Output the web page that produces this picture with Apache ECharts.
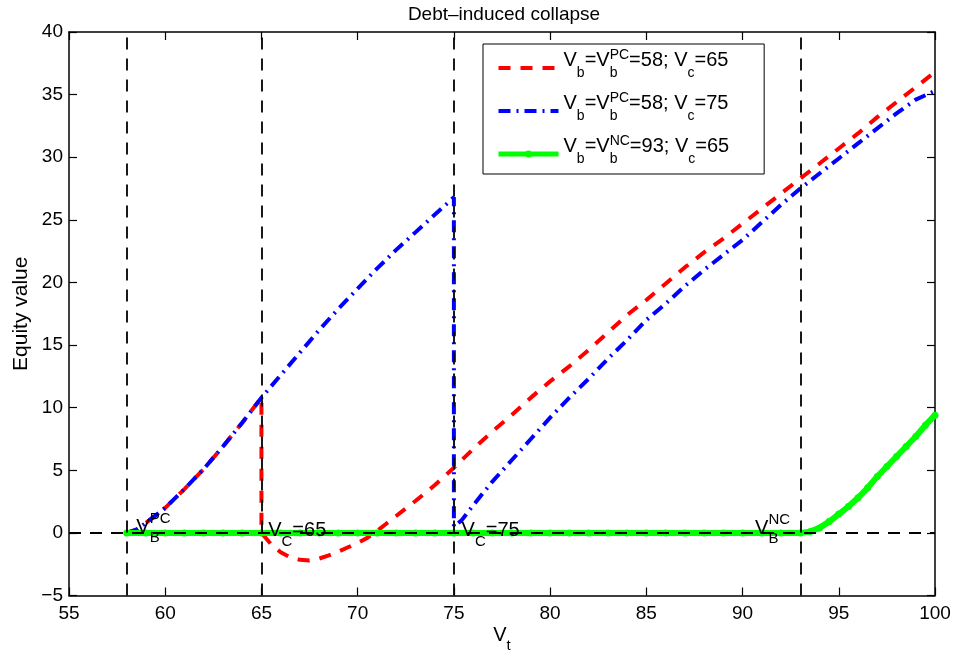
<!DOCTYPE html>
<html>
<head>
<meta charset="utf-8">
<title>Debt-induced collapse</title>
<script src="https://cdn.jsdelivr.net/npm/echarts@6/dist/echarts.min.js"></script>
<style>
  html, body { margin: 0; padding: 0; background: #fff; }
  #chart { width: 956px; height: 652px; }
</style>
</head>
<body>
<div id="chart"></div>
<script>
// ---- data ---------------------------------------------------------------
const xRange = [55, 100];
const yRange = [-5, 40];
const tickStep = 5;

// barrier / call levels marked with vertical dashed lines
const thresholds = [58, 65, 75, 93];

const seriesNames = [
  'V_b=V_b^{PC}=58; V_c=65',
  'V_b=V_b^{PC}=58; V_c=75',
  'V_b=V_b^{NC}=93; V_c=65'
];

// common rise from the bankruptcy barrier up to the first call level
const riseFromBarrier = [
  [58, 0], [58.5, 0.25], [59, 0.8], [59.5, 1.4], [60, 2.0], [61, 3.5],
  [62, 5.1], [63, 6.9], [64, 8.8], [65, 10.8]
];

// Vc = 65: collapse at the call level, dip below zero, then recovery
const callAt65 = [
  [65, 0], [65.5, -0.9], [66, -1.55], [66.5, -1.95], [67, -2.15], [67.5, -2.2],
  [68, -2.05], [68.5, -1.8], [69, -1.5], [69.5, -1.15], [70, -0.8], [70.5, -0.4],
  [71, 0.15], [71.5, 0.75], [72, 1.35], [73, 2.55], [74, 3.8], [75, 5.2],
  [76, 6.7], [77, 8.1], [78, 9.4], [79, 10.8], [80, 12.1], [81, 13.3],
  [82, 14.6], [83, 16.0], [84, 17.4], [85, 18.6], [86, 19.9], [87, 21.2],
  [88, 22.4], [89, 23.5], [90, 24.7], [91, 25.9], [92, 27.1], [93, 28.3],
  [94, 29.5], [95, 30.7], [96, 31.9], [97, 33.2], [98, 34.4], [99, 35.6],
  [100, 36.8]
];

// Vc = 75: keeps rising up to 75, then collapses
const riseTo75 = [
  [66, 12.6], [67, 14.4], [68, 16.2], [69, 17.9], [70, 19.5], [71, 21.1],
  [72, 22.6], [73, 24.0], [74, 25.4], [75, 26.8]
];
const callAt75 = [
  [75, 0.5], [75.4, 1.0], [76, 2.2], [77, 4.1], [78, 5.8], [79, 7.5],
  [80, 9.2], [81, 10.8], [82, 12.3], [83, 13.9], [84, 15.4], [85, 17.0],
  [86, 18.3], [87, 19.7], [88, 21.0], [89, 22.2], [90, 23.4], [91, 24.8],
  [92, 26.2], [93, 27.5], [94, 28.7], [95, 29.9], [96, 31.1], [97, 32.3],
  [98, 33.5], [99, 34.6], [100, 35.3]
];

// no-covenant barrier at 93
const noCovenant = [
  [58, 0], [59, 0], [60, 0], [61, 0], [62, 0], [63, 0], [64, 0], [65, 0],
  [66, 0], [67, 0], [68, 0], [69, 0], [70, 0], [71, 0], [72, 0], [73, 0],
  [74, 0], [75, 0], [76, 0], [77, 0], [78, 0], [79, 0], [80, 0], [81, 0],
  [82, 0], [83, 0], [84, 0], [85, 0], [86, 0], [87, 0], [88, 0], [89, 0],
  [90, 0], [91, 0], [92, 0], [93, 0], [93.5, 0.1], [94, 0.4], [94.5, 0.9],
  [95, 1.5], [95.5, 2.1], [96, 2.8], [96.5, 3.6], [97, 4.5], [97.5, 5.3],
  [98, 6.1], [98.5, 6.9], [99, 7.7], [99.5, 8.6], [100, 9.4]
];

const seriesVc65 = riseFromBarrier.concat(callAt65);
const seriesVc75 = riseFromBarrier.concat(riseTo75, callAt75);

// in-plot annotations (TeX-like strings)
const annotationTexts = ['V_B^{PC}', 'V_C=65', 'V_C=75', 'V_B^{NC}'];
const annotationX = [58.5, 65.35, 75.4, 90.65];

// ---- layout / styles ----------------------------------------------------
const FONT = '"Liberation Sans", Arial, Helvetica, sans-serif';
const annotationShift = [-5.5, -2, -2, -4.5];

// turn "V_b^{PC}=58" into ECharts rich-text markup
function texRich(s, st) {
  const out = [];
  let buf = '';
  let i = 0;
  const flush = () => { if (buf) { out.push('{' + st.main + '|' + buf + '}'); buf = ''; } };
  while (i < s.length) {
    const ch = s[i];
    if (ch === '_' || ch === '^') {
      flush();
      i++;
      let arg;
      if (s[i] === '{') {
        const j = s.indexOf('}', i);
        arg = s.slice(i + 1, j);
        i = j + 1;
      } else {
        arg = s[i];
        i++;
      }
      if (ch === '_') {
        const stacked = s[i] === '^';
        out.push('{' + (stacked ? st.subZ : st.sub) + '|' + arg + '}');
      } else {
        out.push('{' + st.sup + '|' + arg + '}');
      }
    } else {
      buf += ch;
      i++;
    }
  }
  flush();
  return out.join('');
}

const plotKeys = { main: 'v', sub: 's', subZ: 'sz', sup: 'p' };
const plotRich = {
  v:  { fontSize: 20, lineHeight: 22, color: '#000', fontFamily: FONT },
  s:  { fontSize: 15, lineHeight: 15, color: '#000', fontFamily: FONT, padding: [21, 0, 0, 0] },
  sz: { fontSize: 15, lineHeight: 15, color: '#000', fontFamily: FONT, padding: [21, 0, 0, 0], width: 0 },
  p:  { fontSize: 15, lineHeight: 15, color: '#000', fontFamily: FONT, padding: [0, 0, 18, 0] }
};

const legendKeys = { main: 'lv', sub: 'ls', subZ: 'lsz', sup: 'lp' };
const legendRich = {
  lv:  { fontSize: 20, lineHeight: 22, color: '#000', fontFamily: FONT, padding: [0, 0, 16, 0] },
  ls:  { fontSize: 14, lineHeight: 14, color: '#000', fontFamily: FONT, padding: [10, 0, 0, 0] },
  lsz: { fontSize: 14, lineHeight: 14, color: '#000', fontFamily: FONT, padding: [10, 0, 0, 0], width: 0 },
  lp:  { fontSize: 14, lineHeight: 14, color: '#000', fontFamily: FONT, padding: [0, 0, 26, 0] }
};

const axisLine = { show: true, onZero: false, lineStyle: { color: '#000', width: 1.5 } };
const axisTick = { show: true, inside: true, length: 8, lineStyle: { color: '#000', width: 1.2 } };
const tickLabel = { fontSize: 19, color: '#000', fontFamily: FONT };
const minusSign = (v) => String(v).replace('-', '\u2212');

const redStyle = { color: '#ff0000', width: 4, type: [12, 10] };
const blueStyle = { color: '#0000ff', width: 4, type: [12, 6, 2, 6] };
const greenStyle = { color: '#00ff00', width: 6 };

const chart = echarts.init(document.getElementById('chart'), null, { renderer: 'canvas' });

chart.setOption({
  backgroundColor: '#fff',
  animation: false,
  title: {
    text: 'Debt–induced collapse',
    left: 504,
    top: 5,
    padding: 0,
    textAlign: 'center',
    textStyle: { fontSize: 19, fontWeight: 'normal', color: '#000', fontFamily: FONT }
  },
  grid: { left: 69, top: 32, width: 866, height: 563.5, outerBoundsMode: 'none' },
  legend: {
    data: [
      { name: seriesNames[0], itemStyle: { opacity: 0 }, lineStyle: { width: 4 } },
      { name: seriesNames[1], itemStyle: { opacity: 0 }, lineStyle: { width: 4 } },
      { name: seriesNames[2], lineStyle: { width: 5 } }
    ],
    orient: 'vertical',
    left: 483,
    top: 44,
    padding: [4, 35, 0, 13],
    itemGap: 3,
    itemWidth: 60,
    itemHeight: 9,
    borderColor: '#000',
    borderWidth: 1,
    borderRadius: 0,
    backgroundColor: '#fff',
    selectedMode: false,
    formatter: (name) => texRich(name, legendKeys),
    textStyle: { color: '#000', fontFamily: FONT, rich: legendRich }
  },
  xAxis: [
    {
      type: 'value', min: xRange[0], max: xRange[1], interval: tickStep,
      position: 'bottom', axisLine, axisTick,
      axisLabel: Object.assign({ margin: 9, showMinLabel: true, showMaxLabel: true }, tickLabel),
      splitLine: { show: false },
      name: texRich('V_t', plotKeys),
      nameLocation: 'middle',
      nameGap: 29,
      nameMoveOverlap: false,
      nameTextStyle: { rich: plotRich }
    },
    {
      type: 'value', min: xRange[0], max: xRange[1], interval: tickStep,
      position: 'top', axisLine, axisTick,
      axisLabel: { show: false }, splitLine: { show: false }
    }
  ],
  yAxis: [
    {
      type: 'value', min: yRange[0], max: yRange[1], interval: tickStep,
      position: 'left', axisLine, axisTick,
      axisLabel: Object.assign({ margin: 6, showMinLabel: true, showMaxLabel: true, formatter: minusSign }, tickLabel),
      splitLine: { show: false },
      name: 'Equity value',
      nameLocation: 'middle',
      nameGap: 37,
      nameMoveOverlap: false,
      nameTextStyle: { fontSize: 21, color: '#000', fontFamily: FONT }
    },
    {
      type: 'value', min: yRange[0], max: yRange[1], interval: tickStep,
      position: 'right', axisLine, axisTick,
      axisLabel: { show: false }, splitLine: { show: false }
    }
  ],
  series: [
    {
      name: seriesNames[0], type: 'line', data: seriesVc65,
      symbol: 'none', z: 3, emphasis: { disabled: true },
      lineStyle: redStyle,
      itemStyle: { color: redStyle.color }
    },
    {
      name: seriesNames[1], type: 'line', data: seriesVc75,
      symbol: 'none', z: 3, emphasis: { disabled: true },
      lineStyle: blueStyle,
      itemStyle: { color: blueStyle.color }
    },
    {
      name: seriesNames[2], type: 'line', data: noCovenant,
      symbol: 'circle', symbolSize: 7, showSymbol: true, showAllSymbol: true,
      z: 4, emphasis: { disabled: true },
      lineStyle: greenStyle,
      itemStyle: { color: greenStyle.color, borderWidth: 0 }
    },
    {
      // reference levels: barrier / call values and the zero line
      name: 'levels', type: 'line', data: [], z: 5, silent: true,
      markLine: {
        silent: true,
        symbol: 'none',
        animation: false,
        label: { show: false },
        lineStyle: { color: '#000', width: 1.8, type: [12, 9] },
        emphasis: { disabled: true },
        data: thresholds.map(v => ({ xAxis: v })).concat([{ yAxis: 0 }])
      }
    },
    {
      name: 'annotations', type: 'scatter', z: 10, silent: true,
      symbolSize: 0,
      itemStyle: { color: '#000', opacity: 1 },
      label: {
        show: true, position: 'right', distance: 0, color: '#000',
        opacity: 1, textBorderWidth: 0, rich: plotRich
      },
      data: annotationTexts.map((t, i) => ({
        value: [annotationX[i], 0],
        label: { formatter: texRich(t, plotKeys), offset: [0, annotationShift[i]] }
      }))
    }
  ]
});
</script>
</body>
</html>
